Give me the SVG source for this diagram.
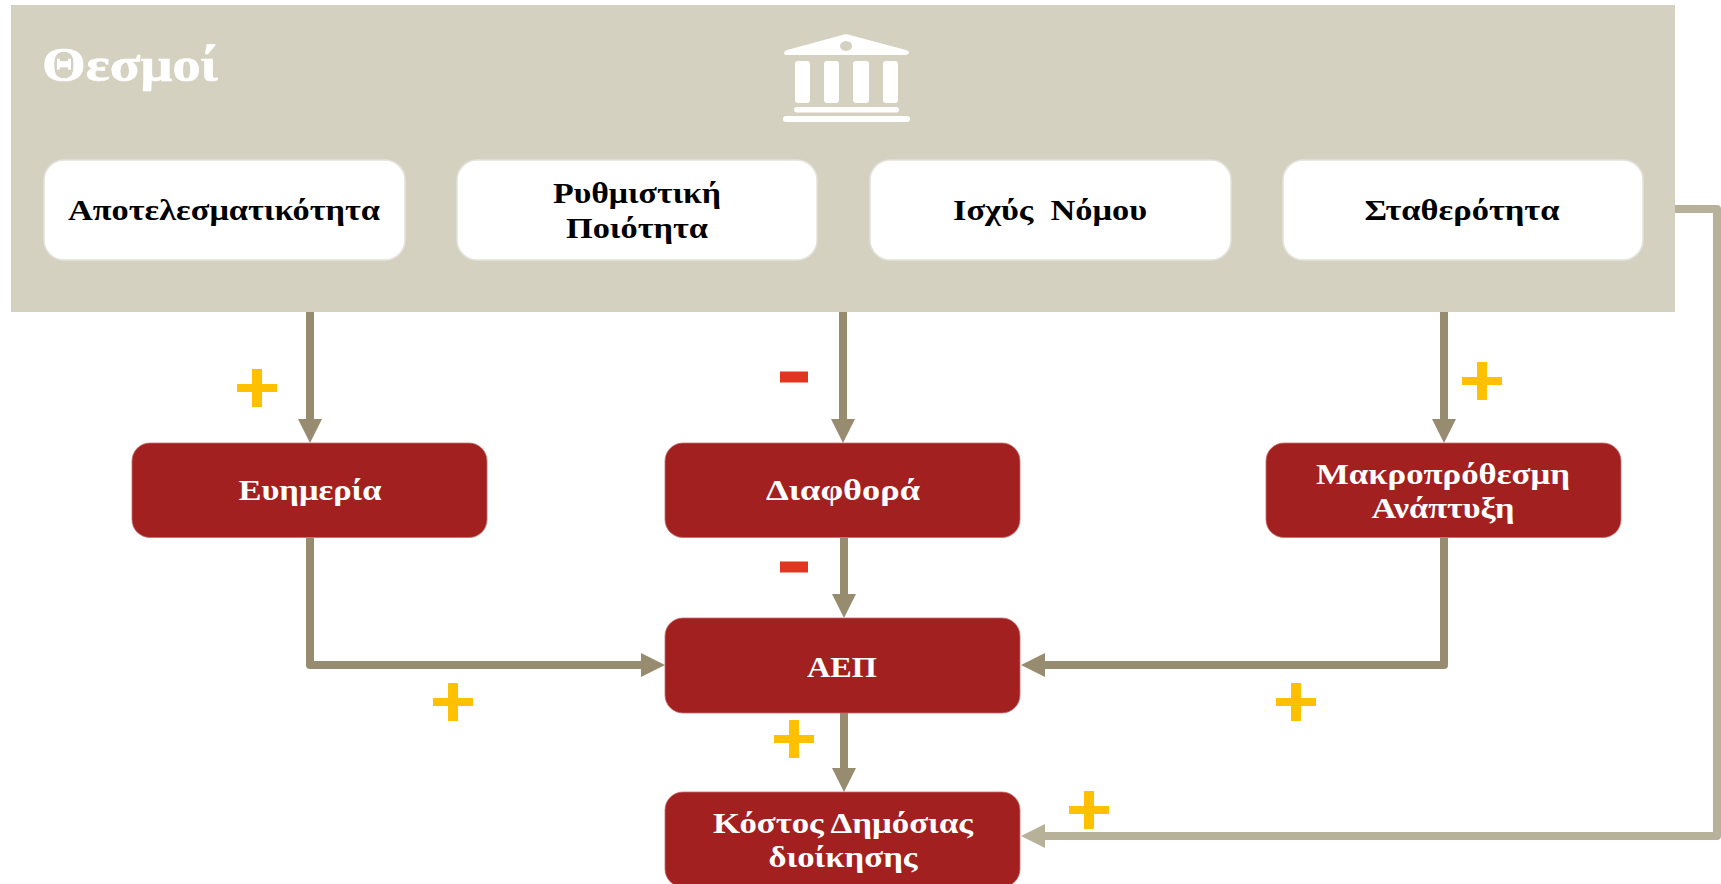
<svg xmlns="http://www.w3.org/2000/svg" width="1721" height="884" viewBox="0 0 1721 884">
<style>
text{font-family:"Liberation Serif","DejaVu Serif",serif;font-weight:700;font-size:30px;text-anchor:middle;white-space:pre}
.w{fill:#fff;stroke:#e4e2da;stroke-width:1.5}
.r{fill:#a32020;stroke:#c0706c;stroke-width:.8}
.wt{fill:#fff}.bt{fill:#000}
.c{fill:none;stroke:#978c6f;stroke-width:8;stroke-linejoin:round}
.c2{fill:none;stroke:#b8b199;stroke-width:8;stroke-linejoin:round}
.p{fill:#ffc000}.m{fill:#e03520}
</style>
<defs>
<marker id="a" markerUnits="userSpaceOnUse" markerWidth="24" markerHeight="24" refX="0" refY="12" orient="auto"><path d="M0 0L24 12L0 24Z" fill="#978c6f"/></marker>
<marker id="b" markerUnits="userSpaceOnUse" markerWidth="24" markerHeight="24" refX="0" refY="12" orient="auto"><path d="M0 0L24 12L0 24Z" fill="#b8b199"/></marker>
<g id="plus"><rect x="-20" y="-4" width="40" height="8" class="p"/><rect x="-5" y="-19" width="10" height="38" class="p"/></g>
<rect id="minus" x="-14" y="-5.500" width="28" height="11" class="m"/>
</defs>
<g id="institutions">
<rect x="11" y="5" width="1664" height="307" fill="#d4d1c1"/>
<text x="130" y="81" class="wt" style="font-size:48px;stroke:#fff;stroke-width:.6" textLength="176" lengthAdjust="spacingAndGlyphs">Θεσμοί</text>
<g id="icon" fill="#fff">
<path d="M846 34L906 50Q911 52 908 54Q907 55 905 55H787Q784 55 784 53Q784 51 787 50ZM846 41a6 5 0 1 0 .1 0Z" fill-rule="evenodd"/>
<rect x="795" y="61" width="15" height="42" rx="3"/><rect x="824" y="61" width="15" height="42" rx="3"/><rect x="853" y="61" width="16" height="42" rx="3"/><rect x="883" y="61" width="15" height="42" rx="3"/>
<rect x="794" y="107" width="105" height="5.500" rx="2.700"/><rect x="783" y="116" width="127" height="6" rx="3"/>
</g>
</g>
<g id="connectors">
<path class="c" marker-end="url(#a)" d="M310 312V419"/>
<path class="c" marker-end="url(#a)" d="M843 312V419"/>
<path class="c" marker-end="url(#a)" d="M1444 312V419"/>
<path class="c" marker-end="url(#a)" d="M310 538V665H641"/>
<path class="c" marker-end="url(#a)" d="M844 538V594"/>
<path class="c" marker-end="url(#a)" d="M1444 538V665H1045"/>
<path class="c" marker-end="url(#a)" d="M844 713V768"/>
<path class="c2" marker-end="url(#b)" d="M1675 209H1717V836H1045"/>
</g>
<g id="n1"><rect class="w" x="44" y="160" width="361" height="100" rx="20"/><text class="bt" x="224" y="220" textLength="312" lengthAdjust="spacingAndGlyphs">Αποτελεσματικότητα</text></g>
<g id="n2"><rect class="w" x="457" y="160" width="360" height="100" rx="20"/><text class="bt" x="637" y="203" textLength="168" lengthAdjust="spacingAndGlyphs">Ρυθμιστική</text><text class="bt" x="637" y="238" textLength="142" lengthAdjust="spacingAndGlyphs">Ποιότητα</text></g>
<g id="n3"><rect class="w" x="870" y="160" width="361" height="100" rx="20"/><text class="bt" x="1050" y="220" textLength="194" lengthAdjust="spacingAndGlyphs">Ισχύς  Νόμου</text></g>
<g id="n4"><rect class="w" x="1283" y="160" width="360" height="100" rx="20"/><text class="bt" x="1462" y="220" textLength="195" lengthAdjust="spacingAndGlyphs">Σταθερότητα</text></g>
<g id="n5"><rect class="r" x="132" y="443" width="355" height="94.500" rx="18"/><text class="wt" x="310" y="500" textLength="143" lengthAdjust="spacingAndGlyphs">Ευημερία</text></g>
<g id="n6"><rect class="r" x="665" y="443" width="355" height="94.500" rx="18"/><text class="wt" x="843" y="500" textLength="154" lengthAdjust="spacingAndGlyphs">Διαφθορά</text></g>
<g id="n7"><rect class="r" x="1266" y="443" width="355" height="94.500" rx="18"/><text class="wt" x="1443" y="484" textLength="254" lengthAdjust="spacingAndGlyphs">Μακροπρόθεσμη</text><text class="wt" x="1443" y="518" textLength="143" lengthAdjust="spacingAndGlyphs">Ανάπτυξη</text></g>
<g id="n8"><rect class="r" x="665" y="618" width="355" height="95" rx="18"/><text class="wt" x="842" y="677" textLength="70" lengthAdjust="spacingAndGlyphs">ΑΕΠ</text></g>
<g id="n9"><rect class="r" x="665" y="792" width="355" height="95" rx="18"/><text class="wt" x="843" y="833" textLength="260" lengthAdjust="spacingAndGlyphs">Κόστος Δημόσιας</text><text class="wt" x="843" y="867" textLength="149" lengthAdjust="spacingAndGlyphs">διοίκησης</text></g>
<g id="signs">
<use href="#plus" x="257" y="388"/><use href="#plus" x="453" y="702"/><use href="#plus" x="794" y="739"/><use href="#plus" x="1482" y="381"/><use href="#plus" x="1296" y="702"/><use href="#plus" x="1089" y="810"/>
<use href="#minus" x="794" y="377"/><use href="#minus" x="794" y="567"/>
</g>
</svg>
